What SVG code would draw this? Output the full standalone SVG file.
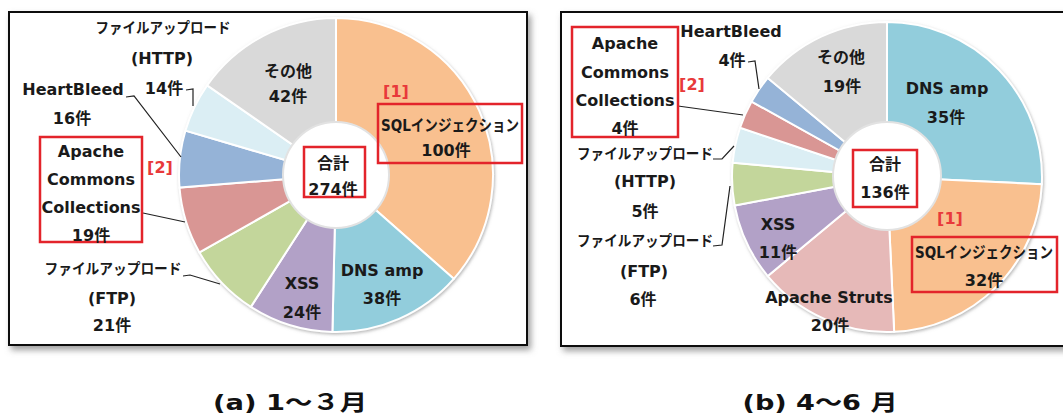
<svg xmlns="http://www.w3.org/2000/svg" width="1063" height="418" viewBox="0 0 1063 418">
<defs>
<filter id="fshadow" x="-5%" y="-5%" width="112%" height="115%"><feDropShadow dx="3" dy="4" stdDeviation="3" flood-color="#777" flood-opacity="0.7"/></filter>
<filter id="pshadow" x="-10%" y="-10%" width="120%" height="120%"><feDropShadow dx="1" dy="1.5" stdDeviation="1.5" flood-color="#888" flood-opacity="0.6"/></filter>
<style>
text{font-family:'DejaVu Sans','Noto Sans CJK JP',sans-serif;font-weight:bold;font-size:16px;fill:#1a1a1a;text-anchor:middle}
.kana{font-size:14.5px}
.red{fill:#e8393b;font-weight:bold;font-size:16px}
.cap{font-size:22px;fill:#111}
.frame{fill:#fff;stroke:#111;stroke-width:2}
.rbox{fill:none;stroke:#e3242b;stroke-width:2.5}
.sl{stroke:#fff;stroke-width:2}
.hole{fill:#fff;stroke:#e2e2e2;stroke-width:2}
.lead{fill:none;stroke:#222;stroke-width:1.2}
</style>
</defs>
<rect class="frame" x="9" y="12" width="518" height="333" filter="url(#fshadow)"/>
<rect class="frame" x="561" y="12" width="510" height="334" filter="url(#fshadow)"/>
<g id="pie-a" filter="url(#pshadow)">
<g id="a-sql"><path class="sl" fill="#F9C08F" d="M336,175 L336,18 A157,157 0 0 1 453.78,278.81 Z"/></g>
<g id="a-dns"><path class="sl" fill="#92CDDC" d="M336,175 L453.78,278.81 A157,157 0 0 1 332.40,331.96 Z"/></g>
<g id="a-xss"><path class="sl" fill="#B2A1C7" d="M336,175 L332.40,331.96 A157,157 0 0 1 250.84,306.90 Z"/></g>
<g id="a-ftp"><path class="sl" fill="#C3D69B" d="M336,175 L250.84,306.90 A157,157 0 0 1 199.44,252.46 Z"/></g>
<g id="a-acc"><path class="sl" fill="#D99694" d="M336,175 L199.44,252.46 A157,157 0 0 1 179.51,187.59 Z"/></g>
<g id="a-hb"><path class="sl" fill="#95B3D7" d="M336,175 L179.51,187.59 A157,157 0 0 1 185.41,130.62 Z"/></g>
<g id="a-http"><path class="sl" fill="#DBEEF4" d="M336,175 L185.41,130.62 A157,157 0 0 1 207.12,85.34 Z"/></g>
<g id="a-other"><path class="sl" fill="#D9D9D9" d="M336,175 L207.12,85.34 A157,157 0 0 1 336,18 Z"/></g>
</g>
<circle class="hole" cx="336" cy="175" r="53"/>
<g id="pie-b" filter="url(#pshadow)">
<g id="b-dns"><path class="sl" fill="#92CDDC" d="M887,177 L887,22 A155,155 0 0 1 1041.83,184.16 Z"/></g>
<g id="b-sql"><path class="sl" fill="#F9C08F" d="M887,177 L1041.83,184.16 A155,155 0 0 1 894.16,331.83 Z"/></g>
<g id="b-struts"><path class="sl" fill="#E6B9B8" d="M887,177 L894.16,331.83 A155,155 0 0 1 767.75,276.02 Z"/></g>
<g id="b-xss"><path class="sl" fill="#B2A1C7" d="M887,177 L767.75,276.02 A155,155 0 0 1 734.64,205.48 Z"/></g>
<g id="b-ftp"><path class="sl" fill="#C3D69B" d="M887,177 L734.64,205.48 A155,155 0 0 1 732.66,162.70 Z"/></g>
<g id="b-http"><path class="sl" fill="#DBEEF4" d="M887,177 L732.66,162.70 A155,155 0 0 1 740.04,127.74 Z"/></g>
<g id="b-acc"><path class="sl" fill="#D99694" d="M887,177 L740.04,127.74 A155,155 0 0 1 751.59,101.58 Z"/></g>
<g id="b-hb"><path class="sl" fill="#95B3D7" d="M887,177 L751.59,101.58 A155,155 0 0 1 767.75,77.98 Z"/></g>
<g id="b-other"><path class="sl" fill="#D9D9D9" d="M887,177 L767.75,77.98 A155,155 0 0 1 887,22 Z"/></g>
</g>
<circle class="hole" cx="887" cy="176" r="54"/>
<g id="connectors">
<polyline class="lead" points="186,90 193,89 193,106"/>
<polyline class="lead" points="126,97 134,96 181,157"/>
<polyline class="lead" points="143,213 185,222"/>
<polyline class="lead" points="183,276 190,275 220,284"/>
<polyline class="lead" points="748,62 755,61 759,89"/>
<polyline class="lead" points="678,106 743,115"/>
<polyline class="lead" points="713,159 722,159 734,146"/>
<polyline class="lead" points="713,246 722,245 730,186"/>
</g>
<g id="lbl-a-http"><text class="kana" x="163" y="33" textLength="135" lengthAdjust="spacingAndGlyphs">ファイルアップロード</text><text x="162" y="64">(HTTP)</text><text x="164" y="94">14件</text></g>
<g id="lbl-a-hb"><text x="73" y="95">HeartBleed</text><text x="72" y="124">16件</text></g>
<g id="lbl-a-acc"><rect class="rbox" x="40" y="137" width="102" height="105"/><text x="91" y="157">Apache</text><text x="91" y="185">Commons</text><text x="91" y="213">Collections</text><text x="91" y="241">19件</text><text class="red" x="160" y="173">[2]</text></g>
<g id="lbl-a-ftp"><text class="kana" x="113" y="274" textLength="137" lengthAdjust="spacingAndGlyphs">ファイルアップロード</text><text x="112" y="304">(FTP)</text><text x="112" y="331">21件</text></g>
<g id="lbl-a-other"><text x="288" y="77">その他</text><text x="288" y="102">42件</text></g>
<g id="lbl-a-sql"><text class="red" x="396" y="97">[1]</text><rect class="rbox" x="378" y="104" width="144" height="59"/><text x="450" y="131" textLength="138" lengthAdjust="spacingAndGlyphs">SQLインジェクション</text><text x="446" y="156">100件</text></g>
<g id="lbl-a-total"><rect class="rbox" x="304" y="147" width="61" height="50"/><text x="333" y="169">合計</text><text x="333" y="195">274件</text></g>
<g id="lbl-a-dns"><text x="382" y="276">DNS amp</text><text x="382" y="304">38件</text></g>
<g id="lbl-a-xss"><text x="302" y="289">XSS</text><text x="302" y="318">24件</text></g>
<g id="lbl-b-acc"><rect class="rbox" x="572" y="27" width="106" height="110"/><text x="625" y="49">Apache</text><text x="625" y="78">Commons</text><text x="625" y="106">Collections</text><text x="625" y="134">4件</text><text class="red" x="692" y="90">[2]</text></g>
<g id="lbl-b-hb"><text x="731" y="37">HeartBleed</text><text x="732" y="66">4件</text></g>
<g id="lbl-b-http"><text class="kana" x="645" y="159" textLength="136" lengthAdjust="spacingAndGlyphs">ファイルアップロード</text><text x="645" y="187">(HTTP)</text><text x="645" y="217">5件</text></g>
<g id="lbl-b-ftp"><text class="kana" x="645" y="246" textLength="136" lengthAdjust="spacingAndGlyphs">ファイルアップロード</text><text x="644" y="277">(FTP)</text><text x="643" y="305">6件</text></g>
<g id="lbl-b-xss"><text x="778" y="230">XSS</text><text x="778" y="258">11件</text></g>
<g id="lbl-b-struts"><text x="829" y="303">Apache Struts</text><text x="830" y="331">20件</text></g>
<g id="lbl-b-other"><text x="841" y="63">その他</text><text x="842" y="92">19件</text></g>
<g id="lbl-b-dns"><text x="947" y="94">DNS amp</text><text x="946" y="123">35件</text></g>
<g id="lbl-b-total"><rect class="rbox" x="853" y="150" width="64" height="57"/><text x="885" y="170">合計</text><text x="885" y="198">136件</text></g>
<g id="lbl-b-sql"><text class="red" x="950" y="224">[1]</text><rect class="rbox" x="912" y="237" width="145" height="55"/><text x="984" y="258" textLength="138" lengthAdjust="spacingAndGlyphs">SQLインジェクション</text><text x="984" y="286">32件</text></g>
<g id="captions"><text class="cap" x="290" y="410" textLength="154" lengthAdjust="spacingAndGlyphs">(a) 1～３月</text><text class="cap" x="820" y="410" textLength="155" lengthAdjust="spacingAndGlyphs">(b) 4～6 月</text></g>
</svg>
